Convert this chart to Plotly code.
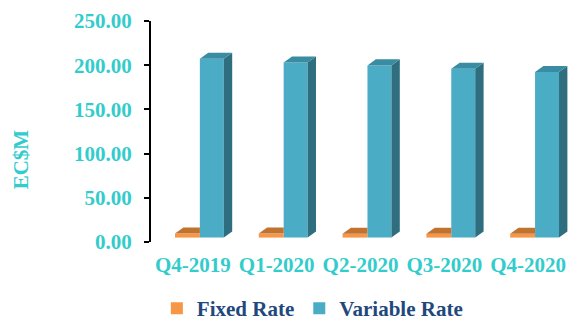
import plotly.graph_objects as go

categories = ["Q4-2019", "Q1-2020", "Q2-2020", "Q3-2020", "Q4-2020"]
fixed_rate = [9.5, 9.5, 9.3, 9.3, 9.2]
variable_rate = [207.4, 203.0, 199.8, 196.0, 192.2]
y_ticks = [0, 50, 100, 150, 200, 250]

# 3D look parameters (style only)
FLOOR = 5.0      # front-face baseline
DX = 0.10        # depth offset in category units
DY = 6.8         # depth offset in value units
O_L, O_R = -0.214, 0.083   # orange front face edges rel. to category
B_L, B_R = 0.083, 0.369    # blue front face edges rel. to category

ORANGE = "#F79646"
ORANGE_TOP = "#C0722F"
BLUE = "#4BACC6"
BLUE_SIDE = "#2F6E7E"
BLUE_TOP = "#3A8CA2"
TEAL = "#33CCCC"
FONT = "Liberation Serif"

xs = list(range(len(categories)))
fig = go.Figure()

# front faces
fig.add_trace(go.Bar(
    x=[i + (O_L + O_R) / 2 for i in xs], y=[v - FLOOR for v in fixed_rate], base=FLOOR,
    width=O_R - O_L, marker=dict(color=ORANGE, line=dict(width=0)), name="Fixed Rate"))
fig.add_trace(go.Bar(
    x=[i + (B_L + B_R) / 2 for i in xs], y=[v - FLOOR for v in variable_rate], base=FLOOR,
    width=B_R - B_L, marker=dict(color=BLUE, line=dict(width=0)), name="Variable Rate"))

# depth faces
for i, (f, v) in enumerate(zip(fixed_rate, variable_rate)):
    xl, xr = i + O_L, i + O_R
    fig.add_trace(go.Scatter(
        x=[xl, xl + DX, xr, xr, xl], y=[f, f + DY, f + DY, f, f],
        fill="toself", fillcolor=ORANGE_TOP, line=dict(width=0), mode="lines",
        showlegend=False, hoverinfo="skip"))
    xl, xr = i + B_L, i + B_R
    fig.add_trace(go.Scatter(
        x=[xr, xr + DX, xr + DX, xr, xr], y=[FLOOR, FLOOR + DY, v + DY, v, FLOOR],
        fill="toself", fillcolor=BLUE_SIDE, line=dict(width=0), mode="lines",
        showlegend=False, hoverinfo="skip"))
    fig.add_trace(go.Scatter(
        x=[xl, xl + DX, xr + DX, xr, xl], y=[v, v + DY, v + DY, v, v],
        fill="toself", fillcolor=BLUE_TOP, line=dict(width=0), mode="lines",
        showlegend=False, hoverinfo="skip"))

fig.update_layout(
    width=570, height=329,
    margin=dict(l=151, r=0, t=21, b=87),
    paper_bgcolor="white", plot_bgcolor="white",
    barmode="overlay",
    font=dict(family=FONT, size=21, color=TEAL),
    xaxis=dict(range=[-0.5, 4.5], tickvals=xs, ticktext=categories,
               showgrid=False, zeroline=False, showline=False, ticks="",
               ticklabelstandoff=8,
               tickfont=dict(family=FONT, size=21, color=TEAL, weight="bold")),
    yaxis=dict(range=[0, 250], tickvals=y_ticks, tickformat=".2f",
               showgrid=False, zeroline=False, showline=True, linecolor="black", linewidth=2,
               ticks="outside", ticklen=5, tickwidth=2, tickcolor="black",
               ticklabelstandoff=8,
               tickfont=dict(family=FONT, size=21, color=TEAL, weight="bold")),
    legend=dict(orientation="h", xref="container", yref="container",
                x=0.548, y=0.0, xanchor="center", yanchor="bottom",
                font=dict(family=FONT, size=21, color="#1F497D", weight="bold"),
                itemwidth=30, bgcolor="rgba(0,0,0,0)", borderwidth=0),
    annotations=[dict(text="<b>EC$M</b>", textangle=-90, xref="paper", yref="paper",
                      x=(20.5 - 151) / 419, y=(241.7 - 159.5) / 221,
                      xanchor="center", yanchor="middle", showarrow=False,
                      font=dict(family=FONT, size=21, color=TEAL))],
)

fig.write_html("out.html")
